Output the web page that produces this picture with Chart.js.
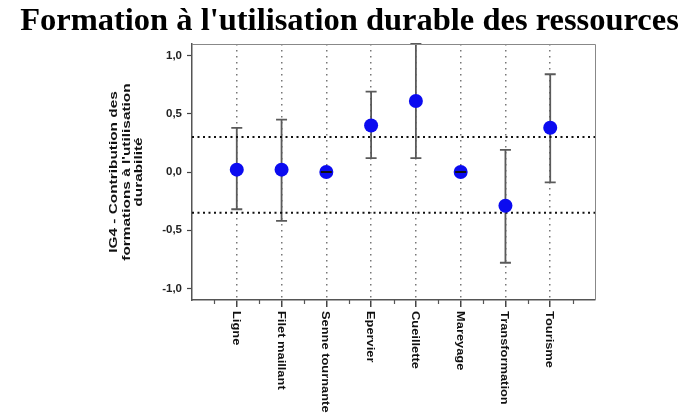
<!DOCTYPE html>
<html>
<head>
<meta charset="utf-8">
<script src="https://cdn.jsdelivr.net/npm/chart.js@4/dist/chart.umd.min.js"></script>
<style>
  html, body { margin: 0; padding: 0; background: #fff; }
  #wrap { width: 699px; height: 417px; position: relative; }
</style>
</head>
<body>
<div id="wrap"><canvas id="chart"></canvas></div>
<script>
// Moyennes et intervalles par activité
const categories = ["Ligne", "Filet maillant", "Senne tournante", "Epervier",
                    "Cueillette", "Mareyage", "Transformation", "Tourisme"];
const means = [0.02, 0.02, 0.0, 0.40, 0.61, 0.0, -0.29, 0.38];
const lows  = [-0.32, -0.42, 0.0, 0.12, 0.12, 0.0, -0.78, -0.09];
const highs = [0.38, 0.45, 0.0, 0.69, 1.10, 0.0, 0.19, 0.84];
const refLines = [0.30, -0.35];
const yTicks = [-1.0, -0.5, 0.0, 0.5, 1.0];
const yTitle = ["IG4 - Contribution des", "formations à l'utilisation", "durabilité"];

// barres d'erreur (sous les points), caps seuls pour les intervalles nuls (au-dessus)
function drawBars(chart, zeroOnly) {
  const ctx = chart.ctx, xs = chart.scales.x, ys = chart.scales.y;
  ctx.save();
  ctx.lineWidth = 1.8;
  categories.forEach((c, i) => {
    const zero = highs[i] === lows[i];
    if (zero !== zeroOnly) return;
    const x = xs.getPixelForValue(i + 1);
    const yt = ys.getPixelForValue(highs[i]);
    const yb = ys.getPixelForValue(lows[i]);
    ctx.strokeStyle = zero ? "#111" : "#5a5a5a";
    ctx.beginPath();
    ctx.moveTo(x, yt); ctx.lineTo(x, yb);
    ctx.moveTo(x - 5.5, yt); ctx.lineTo(x + 5.5, yt);
    ctx.moveTo(x - 5.5, yb); ctx.lineTo(x + 5.5, yb);
    ctx.stroke();
  });
  ctx.restore();
}

const decor = {
  id: "decor",
  beforeDatasetsDraw(chart) { drawBars(chart, false); },
  afterDatasetsDraw(chart) { drawBars(chart, true); },
  afterDraw(chart) {
    const ctx = chart.ctx, a = chart.chartArea, xs = chart.scales.x;
    ctx.save();
    // cadre haut / droite
    ctx.strokeStyle = "#888";
    ctx.lineWidth = 1;
    ctx.beginPath();
    ctx.moveTo(a.left, a.top + 0.5); ctx.lineTo(a.right + 0.5, a.top + 0.5);
    ctx.lineTo(a.right + 0.5, a.bottom);
    ctx.stroke();
    // petites graduations intermédiaires
    ctx.strokeStyle = "#555";
    ctx.lineWidth = 1.2;
    for (let i = 0; i <= categories.length; i++) {
      const x = Math.round(xs.getPixelForValue(i + 0.5)) + 0.5;
      ctx.beginPath();
      ctx.moveTo(x, a.bottom); ctx.lineTo(x, a.bottom + 4);
      ctx.stroke();
    }
    // libellés des catégories, verticaux
    ctx.fillStyle = "#111";
    ctx.font = "bold 11px 'Liberation Sans', Arial, sans-serif";
    ctx.textAlign = "left";
    ctx.textBaseline = "middle";
    categories.forEach((c, i) => {
      ctx.save();
      ctx.translate(xs.getPixelForValue(i + 1) - 1, a.bottom + 11);
      ctx.rotate(Math.PI / 2);
      ctx.scale(1.17, 1);
      ctx.fillText(c, 0, 0);
      ctx.restore();
    });
    // titre de l'axe Y
    const cy = (a.top + a.bottom) / 2;
    ctx.textAlign = "center";
    yTitle.forEach((line, k) => {
      ctx.save();
      ctx.translate(114 + k * 12.5, cy);
      ctx.rotate(-Math.PI / 2);
      ctx.scale(1.4, 1);
      ctx.fillText(line, 0, 0);
      ctx.restore();
    });
    ctx.restore();
  }
};

new Chart(document.getElementById("chart"), {
  data: {
    datasets: [
      {
        type: "scatter",
        data: means.map((m, i) => ({ x: i + 1, y: m })),
        backgroundColor: "#0b0bf0",
        borderWidth: 0,
        pointRadius: 7,
        pointHoverRadius: 7,
        order: 0
      },
      ...refLines.map(v => ({
        type: "line",
        data: [{ x: 0, y: v }, { x: 9, y: v }],
        borderColor: "#111",
        borderWidth: 2,
        borderDash: [2, 3.5],
        pointRadius: 0,
        order: 1
      }))
    ]
  },
  options: {
    responsive: true,
    maintainAspectRatio: false,
    animation: false,
    events: [],
    plugins: {
      legend: { display: false },
      tooltip: { enabled: false },
      title: {
        display: true,
        text: "Formation à l'utilisation durable des ressources",
        color: "#000",
        font: { family: "'Liberation Serif', 'Times New Roman', serif", size: 32.5, weight: "bold" },
        padding: { top: 2, bottom: 3 }
      }
    },
    scales: {
      x: {
        type: "linear",
        min: 0,
        max: 9,
        afterBuildTicks: s => { s.ticks = categories.map((c, i) => ({ value: i + 1 })); },
        afterFit: s => { s.height = 117; },
        ticks: { display: false },
        grid: {
          color: "#777",
          lineWidth: 1.5,
          tickColor: "#444",
          tickLength: 7,
          tickWidth: 1.5,
          tickBorderDash: []
        },
        border: { color: "#555", width: 1.5, dash: [1.5, 4.5] }
      },
      y: {
        min: -1.1,
        max: 1.1,
        afterBuildTicks: s => { s.ticks = yTicks.map(v => ({ value: v })); },
        afterFit: s => { s.width = 192; },
        ticks: {
          color: "#222",
          padding: 5,
          font: { family: "'Liberation Sans', Arial, sans-serif", size: 11.5, weight: "bold" },
          callback: v => v.toFixed(1).replace(".", ",")
        },
        grid: {
          drawOnChartArea: false,
          tickColor: "#444",
          tickLength: 5,
          tickWidth: 1.2
        },
        border: { color: "#555", width: 1.5 }
      },
      // marge vide à droite de la zone de tracé
      yRight: {
        position: "right",
        min: -1.1,
        max: 1.1,
        afterFit: s => { s.width = 104; },
        ticks: { display: false },
        grid: { display: false },
        border: { display: false }
      }
    }
  },
  plugins: [decor]
});
</script>
</body>
</html>
